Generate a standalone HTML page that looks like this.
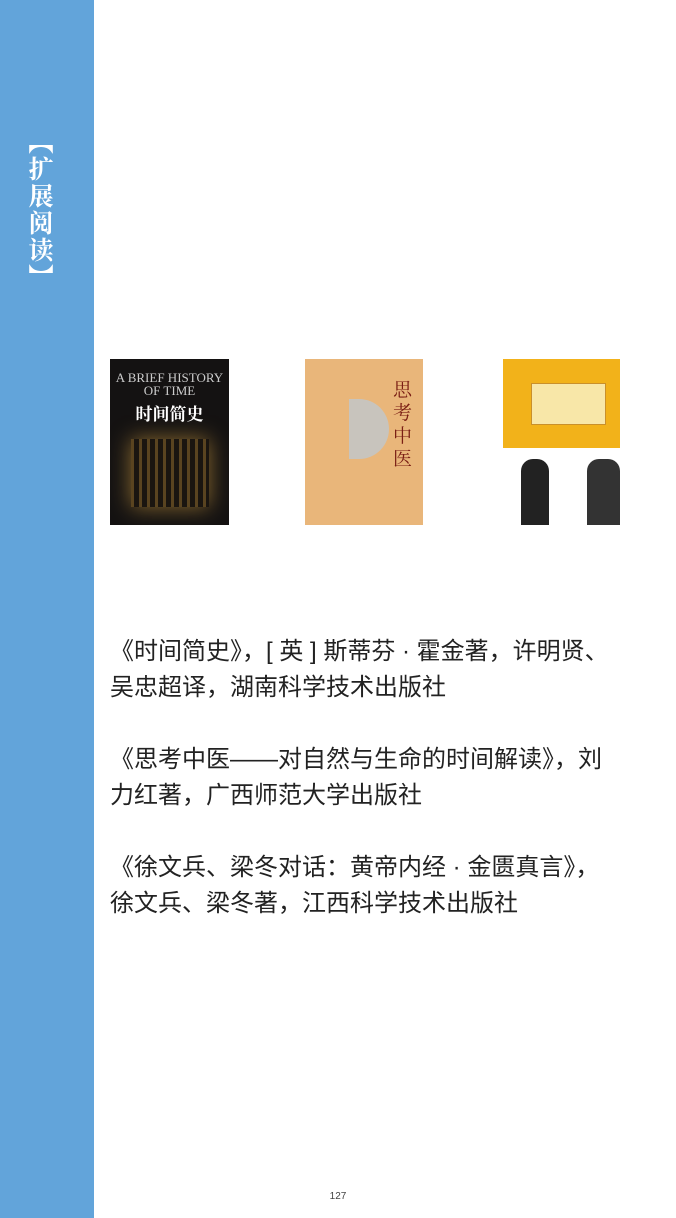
<!DOCTYPE html>
<html><head><meta charset="utf-8">
<style>
body{margin:0;width:676px;height:1218px;background:#fff;position:relative;overflow:hidden;font-family:"Liberation Sans","Noto Sans CJK SC",sans-serif;}
.side{position:absolute;left:0;top:0;width:94px;height:1218px;background:#62a4da;}
.title{position:absolute;left:24px;top:130px;width:34px;color:#fff;font-family:"Liberation Serif","Noto Serif CJK SC",serif;font-weight:bold;font-size:25px;line-height:27px;text-align:center;}
.book{position:absolute;top:359px;height:166px;overflow:hidden;}
.p{position:absolute;left:110px;width:560px;font-size:24px;line-height:36px;color:#222;white-space:nowrap;font-feature-settings:"fwid";}
.pg{position:absolute;left:0;width:676px;top:1191px;text-align:center;font-size:10px;color:#444;}
</style></head><body>
<div class="side"></div>
<div class="title">︻<br>扩<br>展<br>阅<br>读<br>︼</div>

<div class="book" style="left:110px;width:119px;background:#141212;">
<div style="color:#ccc;font-size:13px;text-align:center;margin-top:12px;line-height:13px;font-family:'Liberation Serif',serif">A BRIEF HISTORY<br>OF TIME</div>
<div style="color:#fff;font-weight:bold;font-size:17px;text-align:center;margin-top:3px;font-family:'Noto Serif CJK SC',serif">时间简史</div>
<div style="margin:14px auto 0;width:78px;height:68px;background:repeating-linear-gradient(90deg,#5a4420 0 3px,#1a1510 3px 8px),#3a2d15;box-shadow:0 0 20px #8a6a30"></div>
<div style="color:#999;font-size:8px;text-align:center;margin-top:22px">STEPHEN HAWKING</div>
</div>

<div class="book" style="left:305px;width:118px;background:#e9b67a;">
<div style="position:absolute;left:44px;top:40px;width:40px;height:60px;border-radius:0 30px 30px 0;background:#c8c4bd"></div>
<div style="position:absolute;left:88px;top:18px;width:22px;color:#7a1e14;font-size:19px;line-height:23px;font-family:'Noto Serif CJK SC',serif">思考中医</div>
</div>

<div class="book" style="left:503px;width:117px;background:#fff;">
<div style="position:absolute;left:0;top:0;width:117px;height:89px;background:#f2b21a"></div>
<div style="position:absolute;left:28px;top:24px;width:73px;height:40px;background:#f8e7a8;border:1px solid #c9902b"></div>
<div style="position:absolute;left:18px;top:100px;width:28px;height:66px;background:#222;border-radius:12px 12px 0 0"></div>
<div style="position:absolute;left:84px;top:100px;width:33px;height:66px;background:#333;border-radius:12px 12px 0 0"></div>
</div>

<div class="p" style="top:634px">《时间简史》，[ 英 ] 斯蒂芬 · 霍金著，许明贤、<br>吴忠超译，湖南科学技术出版社</div>
<div class="p" style="top:742px">《思考中医——对自然与生命的时间解读》，刘<br>力红著，广西师范大学出版社</div>
<div class="p" style="top:850px">《徐文兵、梁冬对话：黄帝内经 · 金匮真言》，<br>徐文兵、梁冬著，江西科学技术出版社</div>

<div class="pg">127</div>
</body></html>
